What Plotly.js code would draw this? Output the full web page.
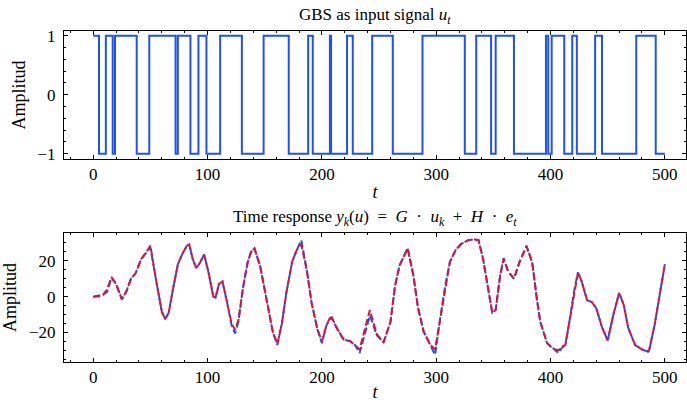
<!DOCTYPE html>
<html>
<head>
<meta charset="utf-8">
<script src="https://cdn.plot.ly/plotly-3.0.1.min.js"></script>
<style>
html,body{margin:0;padding:0;background:#fff;}
#chart{width:687px;height:402px;}
</style>
</head>
<body>
<div id="chart"></div>
<script>
// ---- GBS input signal: switching instants and levels ----
const gbsTimes  = [0,5,11,17,19,38,49,72,74,85,92,99,111,130,149,171,188,192,207,208,222,227,244,262,288,325,335,348,352,368,396,398,401,412,419,423,439,445,475,492,500];
const gbsLevels = [1,-1,1,-1,1,-1,1,-1,1,-1,1,-1,1,-1,1,-1,1,-1,1,-1,1,-1,1,-1,1,-1,1,-1,1,-1,1,-1,1,-1,1,-1,1,-1,1,-1,-1];

// ---- Time response ----
const respTimes = [0,8,12,16,20,25,29,33,37,42,47,50,55,60,63,66,70,74,78,82,84,87,90,93,97,101,105,107,110,113,117,121,124,127,131,135,138,141,146,152,157,161,165,169,174,178,182,187,191,196,200,204,208,213,219,225,229,233,238,242,248,254,260,264,268,275,280,284,289,295,299,303,308,312,317,322,328,333,337,341,346,349,352,356,359,363,368,373,379,384,388,391,397,402,407,410,413,417,421,424,427,432,436,440,445,450,455,460,464,468,474,480,486,491,496,500];
const yMeasured = [0,1,2.5,10.5,7,-1.5,3,10,13,21,25,27.5,9,-8.5,-12.5,-9,5,18,24,28.5,29,21,16,18.5,23.5,13,0,-0.5,7,8.5,-3,-16,-20.5,-14,5,19,25,27,17,-3,-19.5,-27,-15,2.5,19.5,26,31.5,14,-3.5,-18,-26,-16,-11.5,-17.5,-24,-25,-27,-31.5,-19,-10.5,-21.5,-25.5,-14,6,17.5,27,12,-6,-19.5,-27.5,-32.5,-14,6.5,19.5,26,29.5,31.5,32,31.5,21,2.5,-9,-7.5,12,21.5,14,10,19.5,28.5,19,-1,-14,-26,-29,-31.5,-28.5,-27,-12,4.5,13.5,9,-2,-3,-6.5,-17,-24.5,-10,2,-4.5,-17.5,-27,-29.5,-31,-16,3,18];
const yModel    = [0,0.3,4,11,7,-1.5,3,10,13,21,25.5,28.5,9,-8.5,-12.5,-9,5,18,24,28.5,29,21,16,18.5,23.5,13,0,-0.5,7,8.5,-3,-15,-18.5,-13,5,19,25,27,17,-3,-19.5,-26.5,-15,2.5,19.5,26,29,14,-3.5,-18,-25,-16,-10.5,-17.5,-24,-25,-27,-29.5,-17,-7.5,-21,-25.5,-14,6,17.5,27,12,-6,-19.5,-27,-29.5,-14,6.5,19.5,26,29.5,31.5,32,31.5,21,2.5,-9,-7.5,12,21,14,10,19.5,28,19,-1,-14,-26,-29,-30,-28,-27,-12,4.5,13.5,9,-2,-3,-6.5,-17,-24.5,-10,2,-4.5,-17.5,-27,-29.5,-30.5,-16,3,18];

const xTickVals = [0,100,200,300,400,500];
const yTopTicks = [-1,0,1];
const yTopText  = ['\u22121','0','1'];
const yBotTicks = [-20,0,20];
const yBotText  = ['\u221220','0','20'];

const FONT = 'Liberation Serif, Times New Roman, serif';
const SP = '\u2002';

const traces = [
  {x: gbsTimes, y: gbsLevels, type: 'scatter', mode: 'lines',
   line: {shape: 'hv', color: '#1f52f0', width: 2}, xaxis: 'x', yaxis: 'y'},
  {x: respTimes, y: yMeasured, type: 'scatter', mode: 'lines',
   line: {color: '#1f52f0', width: 2, dash: '7px,3px'}, xaxis: 'x2', yaxis: 'y2'},
  {x: respTimes, y: yModel, type: 'scatter', mode: 'lines',
   line: {color: '#dc143c', width: 2, dash: '7px,3px'}, xaxis: 'x2', yaxis: 'y2'}
];

function xax(anchor) {
  return {
    anchor: anchor, range: [-25.6, 518.5], tickvals: xTickVals,
    showline: true, linecolor: '#000', linewidth: 1, mirror: 'allticks',
    ticks: 'inside', ticklen: 4, tickcolor: '#000', tickwidth: 1,
    minor: {ticks: 'inside', ticklen: 2, dtick: 20, tick0: 0, tickcolor: '#000', showgrid: false},
    showgrid: false, zeroline: false,
    tickfont: {family: FONT, size: 17, color: '#000'},
    title: {text: '<i>t</i>', font: {family: FONT, size: 18, color: '#000'}, standoff: 2}
  };
}
function yax(anchor, range, tv, tt, dt, domain) {
  return {
    anchor: anchor, domain: domain, range: range, tickvals: tv, ticktext: tt,
    showline: true, linecolor: '#000', linewidth: 1, mirror: 'allticks',
    ticks: 'inside', ticklen: 4, tickcolor: '#000', tickwidth: 1,
    minor: {ticks: 'inside', ticklen: 2, dtick: dt, tick0: 0, tickcolor: '#000', showgrid: false},
    showgrid: false, zeroline: false, ticklabelstandoff: 4,
    tickfont: {family: FONT, size: 17, color: '#000'},
    title: {text: 'Amplitud', font: {family: FONT, size: 18, color: '#000'}, standoff: 7}
  };
}

const layout = {
  width: 687, height: 402,
  margin: {l: 64, r: 1, t: 31, b: 40},
  paper_bgcolor: '#fff', plot_bgcolor: '#fff',
  showlegend: false,
  xaxis: xax('y'),
  yaxis: yax('x', [-1.085, 1.08], yTopTicks, yTopText, 0.2, [0.614, 1]),
  xaxis2: xax('y2'),
  yaxis2: yax('x2', [-36.5, 35.4], yBotTicks, yBotText, 5, [0, 0.389]),
  annotations: [
    {text: 'GBS as input signal <i>u</i><sub><i>t</i></sub>', xref: 'paper', yref: 'paper',
     x: 0.5, y: 1, yanchor: 'bottom', yshift: 2, showarrow: false,
     font: {family: FONT, size: 17, color: '#000'}},
    {text: 'Time response <i>y</i><sub><i>k</i></sub>(<i>u</i>)' + SP + '=' + SP + '<i>G</i>' + SP + '\u00b7' + SP + '<i>u</i><sub><i>k</i></sub>' + SP + '+' + SP + '<i>H</i>' + SP + '\u00b7' + SP + '<i>e</i><sub><i>t</i></sub>',
     xref: 'paper', yref: 'paper', x: 0.5, y: 0.389, yanchor: 'bottom', yshift: 2, showarrow: false,
     font: {family: FONT, size: 17, color: '#000'}}
  ]
};

Plotly.newPlot('chart', traces, layout, {displayModeBar: false, staticPlot: true});
</script>
</body>
</html>
